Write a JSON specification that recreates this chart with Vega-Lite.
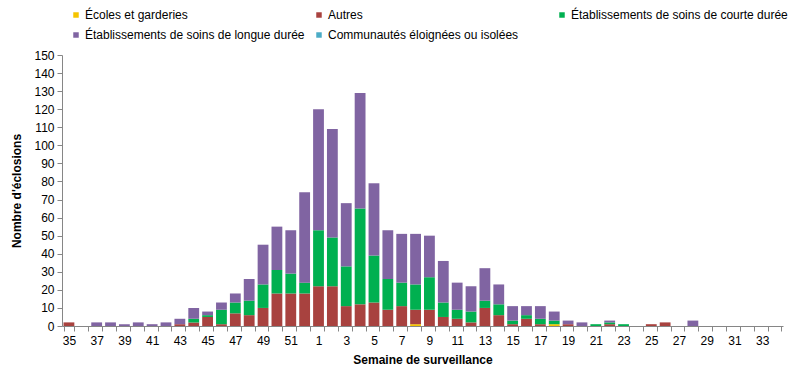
{
  "$schema": "https://vega.github.io/schema/vega-lite/v6.json",
  "width": 721,
  "height": 271,
  "autosize": {"type": "none"},
  "padding": {"left": 62, "top": 55, "right": 10, "bottom": 52},
  "background": "white",
  "config": {
    "view": {"stroke": null},
    "font": "Liberation Sans",
    "axis": {"labelFont": "Liberation Sans", "titleFont": "Liberation Sans", "labelFontSize": 12, "titleFontSize": 12, "labelColor": "#000000", "titleColor": "#000000", "domainColor": "#868686", "tickColor": "#868686", "grid": false}
  },
  "data": {"values": [
    {"semaine": 35, "type": "Autres", "n": 2},
    {"semaine": 37, "type": "Établissements de soins de longue durée", "n": 2},
    {"semaine": 38, "type": "Établissements de soins de longue durée", "n": 2},
    {"semaine": 39, "type": "Établissements de soins de longue durée", "n": 1},
    {"semaine": 40, "type": "Établissements de soins de longue durée", "n": 2},
    {"semaine": 41, "type": "Établissements de soins de longue durée", "n": 1},
    {"semaine": 42, "type": "Établissements de soins de longue durée", "n": 2},
    {"semaine": 43, "type": "Autres", "n": 1},
    {"semaine": 43, "type": "Établissements de soins de longue durée", "n": 3},
    {"semaine": 44, "type": "Autres", "n": 2},
    {"semaine": 44, "type": "Établissements de soins de courte durée", "n": 2},
    {"semaine": 44, "type": "Établissements de soins de longue durée", "n": 6},
    {"semaine": 45, "type": "Autres", "n": 5},
    {"semaine": 45, "type": "Établissements de soins de courte durée", "n": 1},
    {"semaine": 45, "type": "Établissements de soins de longue durée", "n": 2},
    {"semaine": 46, "type": "Autres", "n": 1},
    {"semaine": 46, "type": "Établissements de soins de courte durée", "n": 8},
    {"semaine": 46, "type": "Établissements de soins de longue durée", "n": 4},
    {"semaine": 47, "type": "Autres", "n": 7},
    {"semaine": 47, "type": "Établissements de soins de courte durée", "n": 6},
    {"semaine": 47, "type": "Établissements de soins de longue durée", "n": 5},
    {"semaine": 48, "type": "Autres", "n": 6},
    {"semaine": 48, "type": "Établissements de soins de courte durée", "n": 8},
    {"semaine": 48, "type": "Établissements de soins de longue durée", "n": 12},
    {"semaine": 49, "type": "Autres", "n": 10},
    {"semaine": 49, "type": "Établissements de soins de courte durée", "n": 13},
    {"semaine": 49, "type": "Établissements de soins de longue durée", "n": 22},
    {"semaine": 50, "type": "Autres", "n": 18},
    {"semaine": 50, "type": "Établissements de soins de courte durée", "n": 13},
    {"semaine": 50, "type": "Établissements de soins de longue durée", "n": 24},
    {"semaine": 51, "type": "Autres", "n": 18},
    {"semaine": 51, "type": "Établissements de soins de courte durée", "n": 11},
    {"semaine": 51, "type": "Établissements de soins de longue durée", "n": 24},
    {"semaine": 52, "type": "Autres", "n": 18},
    {"semaine": 52, "type": "Établissements de soins de courte durée", "n": 6},
    {"semaine": 52, "type": "Établissements de soins de longue durée", "n": 50},
    {"semaine": 1, "type": "Autres", "n": 22},
    {"semaine": 1, "type": "Établissements de soins de courte durée", "n": 31},
    {"semaine": 1, "type": "Établissements de soins de longue durée", "n": 67},
    {"semaine": 2, "type": "Autres", "n": 22},
    {"semaine": 2, "type": "Établissements de soins de courte durée", "n": 27},
    {"semaine": 2, "type": "Établissements de soins de longue durée", "n": 60},
    {"semaine": 3, "type": "Autres", "n": 11},
    {"semaine": 3, "type": "Établissements de soins de courte durée", "n": 22},
    {"semaine": 3, "type": "Établissements de soins de longue durée", "n": 35},
    {"semaine": 4, "type": "Autres", "n": 12},
    {"semaine": 4, "type": "Établissements de soins de courte durée", "n": 53},
    {"semaine": 4, "type": "Établissements de soins de longue durée", "n": 64},
    {"semaine": 5, "type": "Autres", "n": 13},
    {"semaine": 5, "type": "Établissements de soins de courte durée", "n": 26},
    {"semaine": 5, "type": "Établissements de soins de longue durée", "n": 40},
    {"semaine": 6, "type": "Autres", "n": 9},
    {"semaine": 6, "type": "Établissements de soins de courte durée", "n": 17},
    {"semaine": 6, "type": "Établissements de soins de longue durée", "n": 27},
    {"semaine": 7, "type": "Autres", "n": 11},
    {"semaine": 7, "type": "Établissements de soins de courte durée", "n": 13},
    {"semaine": 7, "type": "Établissements de soins de longue durée", "n": 27},
    {"semaine": 8, "type": "Écoles et garderies", "n": 1},
    {"semaine": 8, "type": "Autres", "n": 8},
    {"semaine": 8, "type": "Établissements de soins de courte durée", "n": 14},
    {"semaine": 8, "type": "Établissements de soins de longue durée", "n": 28},
    {"semaine": 9, "type": "Autres", "n": 9},
    {"semaine": 9, "type": "Établissements de soins de courte durée", "n": 18},
    {"semaine": 9, "type": "Établissements de soins de longue durée", "n": 23},
    {"semaine": 10, "type": "Autres", "n": 5},
    {"semaine": 10, "type": "Établissements de soins de courte durée", "n": 8},
    {"semaine": 10, "type": "Établissements de soins de longue durée", "n": 23},
    {"semaine": 11, "type": "Autres", "n": 4},
    {"semaine": 11, "type": "Établissements de soins de courte durée", "n": 5},
    {"semaine": 11, "type": "Établissements de soins de longue durée", "n": 15},
    {"semaine": 12, "type": "Autres", "n": 2},
    {"semaine": 12, "type": "Établissements de soins de courte durée", "n": 6},
    {"semaine": 12, "type": "Établissements de soins de longue durée", "n": 14},
    {"semaine": 13, "type": "Autres", "n": 10},
    {"semaine": 13, "type": "Établissements de soins de courte durée", "n": 4},
    {"semaine": 13, "type": "Établissements de soins de longue durée", "n": 18},
    {"semaine": 14, "type": "Autres", "n": 6},
    {"semaine": 14, "type": "Établissements de soins de courte durée", "n": 6},
    {"semaine": 14, "type": "Établissements de soins de longue durée", "n": 11},
    {"semaine": 15, "type": "Autres", "n": 1},
    {"semaine": 15, "type": "Établissements de soins de courte durée", "n": 2},
    {"semaine": 15, "type": "Établissements de soins de longue durée", "n": 8},
    {"semaine": 16, "type": "Autres", "n": 4},
    {"semaine": 16, "type": "Établissements de soins de courte durée", "n": 2},
    {"semaine": 16, "type": "Établissements de soins de longue durée", "n": 5},
    {"semaine": 17, "type": "Autres", "n": 1},
    {"semaine": 17, "type": "Établissements de soins de courte durée", "n": 3},
    {"semaine": 17, "type": "Établissements de soins de longue durée", "n": 7},
    {"semaine": 18, "type": "Écoles et garderies", "n": 1},
    {"semaine": 18, "type": "Établissements de soins de courte durée", "n": 2},
    {"semaine": 18, "type": "Établissements de soins de longue durée", "n": 5},
    {"semaine": 19, "type": "Autres", "n": 1},
    {"semaine": 19, "type": "Établissements de soins de longue durée", "n": 2},
    {"semaine": 20, "type": "Établissements de soins de longue durée", "n": 2},
    {"semaine": 21, "type": "Établissements de soins de courte durée", "n": 1},
    {"semaine": 22, "type": "Autres", "n": 1},
    {"semaine": 22, "type": "Établissements de soins de courte durée", "n": 1},
    {"semaine": 22, "type": "Établissements de soins de longue durée", "n": 1},
    {"semaine": 23, "type": "Établissements de soins de courte durée", "n": 1},
    {"semaine": 25, "type": "Autres", "n": 1},
    {"semaine": 26, "type": "Autres", "n": 2},
    {"semaine": 28, "type": "Établissements de soins de longue durée", "n": 3}
  ]},
  "transform": [
    {"lookup": "type", "from": {"data": {"values": [
      {"type": "Écoles et garderies", "rang": 1},
      {"type": "Autres", "rang": 2},
      {"type": "Établissements de soins de courte durée", "rang": 3},
      {"type": "Établissements de soins de longue durée", "rang": 4},
      {"type": "Communautés éloignées ou isolées", "rang": 5}
    ]}, "key": "type", "fields": ["rang"]}}
  ],
  "mark": {"type": "bar"},
  "encoding": {
    "x": {
      "field": "semaine", "type": "ordinal", "sort": null,
      "scale": {"domain": [35,36,37,38,39,40,41,42,43,44,45,46,47,48,49,50,51,52,1,2,3,4,5,6,7,8,9,10,11,12,13,14,15,16,17,18,19,20,21,22,23,24,25,26,27,28,29,30,31,32,33,34], "paddingInner": 0.22, "paddingOuter": 0.11},
      "axis": {"title": "Semaine de surveillance", "titleFontWeight": "bold", "labelAngle": 0, "tickBand": "extent", "tickSize": 5, "labelPadding": 4, "titlePadding": 8, "labelExpr": "datum.value % 2 == 1 ? datum.label : ''"}
    },
    "y": {
      "field": "n", "type": "quantitative", "aggregate": "sum", "stack": "zero",
      "scale": {"domain": [0, 150], "nice": false},
      "axis": {"title": "Nombre d'éclosions", "titleFontWeight": "bold", "values": [0,10,20,30,40,50,60,70,80,90,100,110,120,130,140,150], "tickSize": 5, "labelPadding": 3, "titlePadding": 10}
    },
    "color": {
      "field": "type", "type": "nominal",
      "sort": ["Écoles et garderies", "Autres", "Établissements de soins de courte durée", "Établissements de soins de longue durée", "Communautés éloignées ou isolées"],
      "scale": {
        "domain": ["Écoles et garderies", "Autres", "Établissements de soins de courte durée", "Établissements de soins de longue durée", "Communautés éloignées ou isolées"],
        "range": ["#F5C400", "#A8423F", "#00B050", "#8064A2", "#4BACC6"]
      },
      "legend": {
        "title": null, "orient": "none", "legendX": 8, "legendY": -46,
        "direction": "horizontal", "columns": 3, "gridAlign": "all",
        "symbolType": "square", "symbolSize": 30, "symbolStrokeWidth": 0,
        "labelFontSize": 12, "labelFont": "Liberation Sans", "labelColor": "#000000",
        "labelOffset": 3, "columnPadding": 8, "rowPadding": 8, "labelLimit": 400
      }
    },
    "order": {"field": "rang", "type": "quantitative", "sort": "ascending"}
  }
}
